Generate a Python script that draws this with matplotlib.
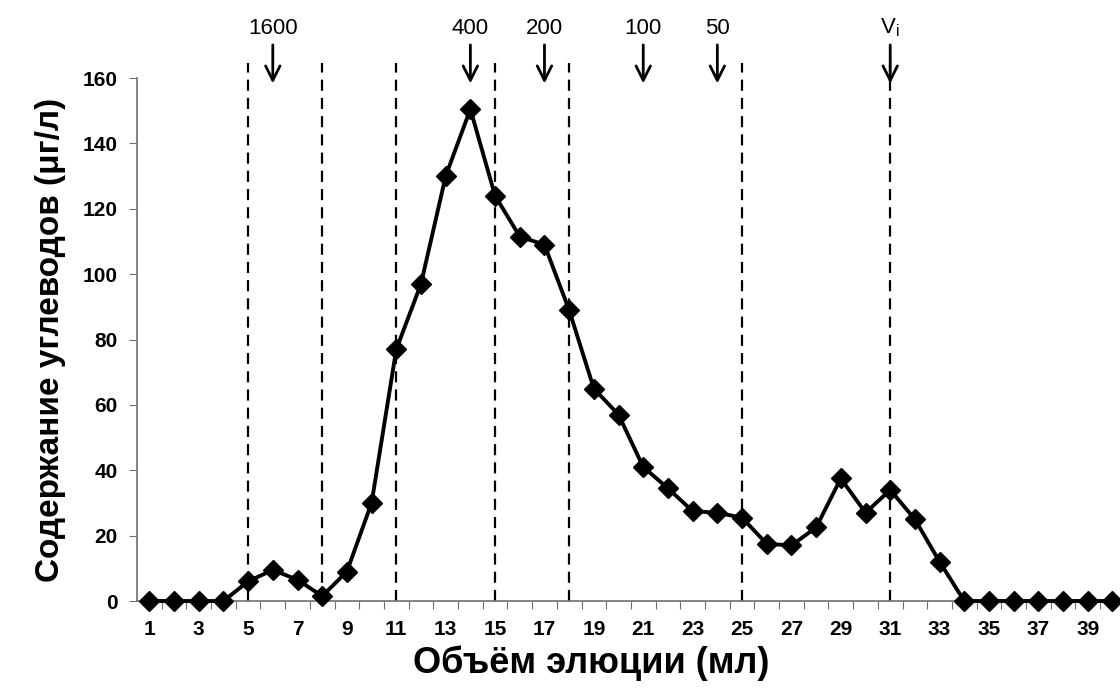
import numpy as np
import matplotlib.pyplot as plt

plt.rcParams['font.family'] = ['Liberation Sans', 'DejaVu Sans']

# fraction number (ml) and carbohydrate content
volume = list(range(1, 41))
content = [0, 0, 0, 0, 6, 9.5, 6.5, 1.5, 9, 30,
           77, 97, 130, 150.5, 124, 111.5, 109, 89, 65, 57,
           41, 34.5, 27.5, 27, 25.5, 17.5, 17, 22.5, 37.5, 27,
           34, 25, 12, 0, 0, 0, 0, 0, 0, 0]

# dashed separators and molecular-mass markers
dash_x = [5, 8, 11, 15, 18, 25, 31]
marker_x = [6, 14, 17, 21, 24, 31]
marker_labels = ['1600', '400', '200', '100', '50', r'V$_\mathregular{i}$']

fig = plt.figure(figsize=(11.2, 6.89), dpi=100)
ax = fig.add_axes([0.1223, 0.1277, 0.882, 0.759])

for xv in dash_x:
    ax.plot([xv, xv], [0, 164.5], ls=(0, (5, 3.2)), color='black', lw=1.6,
            clip_on=False, zorder=1)

ax.plot(volume, content, color='black', lw=2.8, marker='D', markersize=10,
        clip_on=False, zorder=3)

for xv, lab in zip(marker_x, marker_labels):
    ax.annotate('', xy=(xv, 157.5), xytext=(xv, 171),
                arrowprops=dict(arrowstyle='->', color='black', lw=2,
                                mutation_scale=26),
                annotation_clip=False)
    ax.text(xv, 172, lab, ha='center', va='bottom', fontsize=16,
            clip_on=False)

ax.set_xlim(0.5, 40.5)
ax.set_ylim(0, 160)
ax.set_yticks(np.arange(0, 161, 20))
ax.set_xticks(np.arange(1.5, 40.5, 1))
ax.set_xticklabels([])
ax.set_xticks(np.arange(1, 41, 2), minor=True)
ax.set_xticklabels([str(v) for v in range(1, 41, 2)], minor=True)
ax.tick_params(axis='x', which='minor', length=0, pad=14, labelsize=15)
ax.tick_params(axis='x', which='major', length=6, color='#707070')
ax.tick_params(axis='y', length=6, color='#707070', labelsize=15, pad=8)
for lab in ax.get_xticklabels(minor=True) + ax.get_yticklabels():
    lab.set_fontweight('bold')

for s in ['top', 'right']:
    ax.spines[s].set_visible(False)
for s in ['left', 'bottom']:
    ax.spines[s].set_color('#707070')
    ax.spines[s].set_linewidth(1.2)

ax.set_xlabel('Объём элюции (мл)', fontsize=26, fontweight='bold')
ax.xaxis.set_label_coords(0.46, -0.085)
ax.set_ylabel('Содержание углеводов (μг/л)', fontsize=24, fontweight='bold',
              labelpad=12)

fig.savefig('out.png', dpi=100)
